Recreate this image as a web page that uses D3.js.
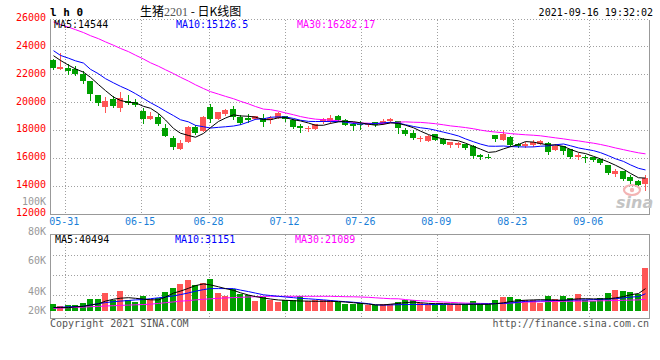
<!DOCTYPE html>
<html><head><meta charset="utf-8">
<script src="https://cdn.jsdelivr.net/npm/d3@7/dist/d3.min.js"></script>
<style>body{margin:0;background:#fff}svg{display:block}</style>
</head><body><svg id="c" width="660" height="360"></svg>
<script>
const dates = ["05-27","05-28","05-31","06-01","06-02","06-03","06-04","06-07","06-08","06-09","06-10","06-11","06-15","06-16","06-17","06-18","06-21","06-22","06-23","06-24","06-25","06-28","06-29","06-30","07-01","07-02","07-05","07-06","07-07","07-08","07-09","07-12","07-13","07-14","07-15","07-16","07-19","07-20","07-21","07-22","07-23","07-26","07-27","07-28","07-29","07-30","08-02","08-03","08-04","08-05","08-06","08-09","08-10","08-11","08-12","08-13","08-16","08-17","08-18","08-19","08-20","08-23","08-24","08-25","08-26","08-27","08-30","08-31","09-01","09-02","09-03","09-06","09-07","09-08","09-09","09-10","09-13","09-14","09-15","09-16"];
const open = [23000,22380,22480,22400,22000,21500,20500,19650,20200,19560,20080,19970,19370,18790,18930,18170,17400,16620,17100,18220,17930,19650,18770,19130,19500,18930,18880,18790,18890,18700,18890,18980,18700,18270,18070,18070,18560,18650,18980,18700,18410,18440,18350,18560,18390,18620,18650,18000,17790,17330,17190,17690,17380,16900,16900,16980,16860,16180,16060,17620,17310,17500,16980,16830,16900,17020,17090,16590,16830,16600,16060,16060,16060,15880,15470,14870,15040,14630,14340,14150];
const close = [22450,22500,22230,22050,21500,20600,19900,20060,19720,20300,19900,19760,18790,19030,18410,17570,16740,17070,18220,17780,18930,18820,19290,19450,18930,18530,18700,18980,18570,18890,19220,18750,18220,18150,18140,18410,18750,18890,18700,18340,18270,18360,18390,18340,18650,18790,18170,17740,17430,17430,17550,17310,17000,17140,17090,16710,16120,16060,15950,17330,17740,16900,16830,17020,17140,17210,16400,16830,16500,16060,16180,15950,15830,15590,14910,15040,14510,14340,14030,14560];
const high = [23080,23490,22700,22580,22210,21520,20520,20370,20440,20730,20490,20200,19540,19290,19130,18410,17530,17260,18250,18340,18980,19850,19300,19500,19700,19060,19130,19030,19130,19000,19270,19030,18820,18410,18270,18460,18840,19060,19080,18790,18580,18650,18530,18560,18790,18860,18650,18170,18030,17550,17620,17740,17430,17140,17140,17020,16900,16250,16250,17620,17980,17550,17070,17140,17260,17310,17140,17020,16830,16600,16310,16180,16060,15880,15470,15230,15040,14750,14440,14800];
const low = [22360,22380,22050,21950,21400,20180,19770,19290,19670,19350,19880,19700,18500,18790,18360,17550,16620,16620,17100,17720,17930,18580,18770,19050,18750,18390,18550,18790,18270,18500,18890,18640,18170,17860,17930,18070,18500,18500,18650,18340,17980,18100,18250,18270,18390,18620,17780,17620,17380,17220,17190,17260,17000,16780,16780,16620,16020,15920,15950,17210,17260,16860,16790,16780,16830,17020,16300,16590,16260,16000,15880,15700,15740,15520,14860,14700,14390,14210,14030,13670];
const volume = [12110,8500,10300,10300,13920,22420,22420,32000,20610,35620,19350,15730,26580,21150,24230,34350,41040,48270,55510,46470,50620,57310,32000,26580,39230,31460,28390,18080,25310,20610,16270,19350,19350,26580,18080,19350,19350,19350,16270,13380,13380,14460,10300,10300,13380,13380,16270,19350,20610,14460,13380,13380,12110,12110,12110,13380,18080,12110,12110,19350,25310,25310,22420,19350,19350,14460,26580,22420,26580,24230,30190,20610,18080,24230,32540,37430,35620,33810,31460,77740];
const ma5 = [23330,22990,22650,22380,22146,21776,21256,20822,20356,20116,19976,19948,19694,19556,19178,18712,18108,17764,17602,17476,17748,18164,18608,18854,19084,19004,18980,18918,18742,18734,18872,18882,18730,18646,18496,18334,18334,18468,18578,18618,18590,18512,18412,18340,18402,18506,18468,18338,18156,17912,17664,17492,17344,17286,17218,17050,16812,16624,16386,16434,16640,16796,16950,17164,17126,17020,16920,16920,16816,16600,16394,16304,16104,15922,15692,15464,15176,14878,14566,14544];
const ma10 = [23690,23350,23150,22960,22800,22350,22030,21680,21380,21131,20876,20602,20258,19956,19647,19344,19028,18729,18579,18327,18230,18136,18186,18228,18280,18376,18572,18763,18798,18909,18938,18931,18824,18694,18615,18603,18608,18599,18612,18557,18462,18423,18440,18459,18510,18548,18490,18375,18248,18157,18085,17980,17841,17721,17565,17357,17152,16984,16836,16826,16845,16804,16787,16775,16780,16830,16858,16935,16990,16863,16707,16612,16512,16369,16146,15929,15740,15491,15244,15127];
const ma30 = [25750,25560,25380,25200,24990,24765,24550,24320,24080,23850,23620,23365,23090,22820,22570,22320,22045,21780,21505,21240,20970,20750,20570,20410,20240,20055,19870,19680,19495,19456,19348,19223,19089,18959,18847,18774,18736,18697,18663,18598,18543,18497,18483,18460,18468,18509,18557,18579,18553,18541,18495,18445,18368,18291,18230,18169,18083,17986,17899,17847,17797,17736,17689,17652,17618,17578,17500,17431,17358,17282,17212,17132,17047,16955,16830,16705,16583,16470,16357,16282];
const volMa5 = [6150,6150,6150,7590,8500,10850,13020,17900,21330,23140,24050,22960,21520,20250,20070,25130,32360,35980,41040,45920,49000,47190,43750,40500,37430,32910,28930,26040,23500,21700,19890,19350,18620,18080,17900,17540,17540,17540,17000,16270,15000,13740,12480,11030,11030,12290,13740,15190,16270,15000,13740,13380,13380,12840,12290,12110,12110,12110,12110,13200,14830,17000,18620,19530,20070,20430,20250,19710,19350,20790,22060,22240,21880,21880,22240,23680,26040,29290,31640,40494];
const volMa10 = [6330,6870,7410,7960,8500,11030,13200,15190,16810,17900,18980,20070,20790,22240,23870,25310,27300,29650,32720,35800,38690,40500,40500,40500,40500,37790,35080,32360,29290,28020,26580,25310,24050,22780,22060,21150,20070,19000,17800,16800,15800,14650,13200,11210,10490,11030,11390,11750,11930,11750,11570,11750,11930,11930,12110,12290,12660,12840,13020,13380,13740,14460,15910,17360,17900,18260,18620,18980,19350,19710,19890,20250,20610,20970,21520,22240,23680,25130,26040,31151];
const volMa30 = [4700,5240,5970,6510,7050,7770,8320,9040,9580,10120,10670,11210,11750,12290,13740,15010,16450,17720,18800,20070,21150,22060,22960,23680,24230,24770,25310,25850,26400,26580,26580,26580,26580,26580,26580,26580,26580,26580,26220,25850,25670,25310,24770,23870,22960,22240,22060,20610,19350,18440,17720,16810,16270,15550,14830,14280,13920,13740,13380,13380,13920,14460,15190,16090,16450,16810,17000,17360,17540,17720,17900,17900,18080,18440,18620,18980,19350,19710,20070,21089];
const priceTicks = [26000,24000,22000,20000,18000,16000,14000,12000];
const volTickValues = [80000,60000,40000,20000];
const volTickLabels = ["80K","60K","40K","20K"];
const dateTicks = ["05-31","06-15","06-28","07-12","07-26","08-09","08-23","09-06"];
const volGridDates = ["05-31","06-28","07-12","07-26","08-09","09-06"];
const volGridRows = [1,2,3];
const maLabels = ["MA5:14544","MA10:15126.5","MA30:16282.17"];
const volMaLabels = ["MA5:40494","MA10:31151","MA30:21089"];

const svg = d3.select("#c");
const mono = "'DejaVu Sans Mono', monospace";
const RED = "#ff5555", GREEN = "#00a000", GRID = "#a0a0a0", BORDER = "#999";
const L = 50, R = 650;

const x = d3.scaleBand().domain(dates).range([L, R]);
const xGrid = d3.scaleLinear().domain([0, dates.length - 1]).range([L, R]);
const y = d3.scaleLinear().domain([12000, 26000]).range([213.5, 18.5]);
const yVol = d3.scaleLinear().domain([0, 138000]).range([311, 234.7]);
const yVolLabel = d3.scaleLinear().domain([20000, 40000, 60000, 80000]).range([314, 294.5, 264, 234.5]);
const gRow = d3.scaleLinear().domain([0, 4]).range([235, 315]);
const px = v => Math.round(v) + 0.5;
const cx = d => Math.floor(x(d)) + 3.5;

// ---------- main panel grid ----------
const grid = svg.append("g").attr("shape-rendering", "crispEdges");
grid.selectAll(".hg").data(priceTicks.filter(v => v > 12000)).join("line")
  .attr("x1", L).attr("x2", R - 1).attr("y1", d => px(y(d))).attr("y2", d => px(y(d)))
  .attr("stroke", GRID).attr("stroke-dasharray", "1,2");
grid.selectAll(".vg").data(dateTicks).join("line")
  .attr("x1", d => px(xGrid(dates.indexOf(d)))).attr("x2", d => px(xGrid(dates.indexOf(d))))
  .attr("y1", px(y(26000))).attr("y2", px(y(12000)))
  .attr("stroke", GRID).attr("stroke-dasharray", "1,2");
grid.append("line").attr("x1", L + 0.5).attr("x2", L + 0.5).attr("y1", px(y(26000))).attr("y2", px(y(12000))).attr("stroke", BORDER);
grid.append("line").attr("x1", R - 0.5).attr("x2", R - 0.5).attr("y1", px(y(26000))).attr("y2", px(y(12000))).attr("stroke", BORDER);
grid.append("line").attr("x1", L).attr("x2", R).attr("y1", px(y(12000))).attr("y2", px(y(12000))).attr("stroke", BORDER);

// volume panel grid
const vTop = 234.5, vBot = 318.5;
grid.selectAll(".vhg").data(volGridRows).join("line")
  .attr("x1", L).attr("x2", R - 1).attr("y1", d => px(gRow(d))).attr("y2", d => px(gRow(d)))
  .attr("stroke", GRID).attr("stroke-dasharray", "1,2");
grid.selectAll(".vvg").data(volGridDates).join("line")
  .attr("x1", d => px(xGrid(dates.indexOf(d)))).attr("x2", d => px(xGrid(dates.indexOf(d))))
  .attr("y1", vTop).attr("y2", vBot)
  .attr("stroke", GRID).attr("stroke-dasharray", "1,2");
grid.append("rect").attr("x", L + 0.5).attr("y", vTop).attr("width", R - L - 1).attr("height", vBot - vTop)
  .attr("fill", "none").attr("stroke", BORDER);

// watermark
const wm = svg.append("g");
wm.append("ellipse").attr("cx", 632).attr("cy", 190).attr("rx", 8).attr("ry", 5)
  .attr("fill", "none").attr("stroke", "#f3b4b4").attr("stroke-width", 2.2);
wm.append("circle").attr("cx", 632).attr("cy", 190).attr("r", 2.2).attr("fill", "#f3b4b4");
wm.append("text").attr("x", 616).attr("y", 208).text("sina")
  .attr("font-family", "'DejaVu Sans', sans-serif").attr("font-style", "italic").attr("font-weight", "bold")
  .attr("font-size", 16).attr("fill", "#c4c4c4");

// ---------- candles ----------
const idx = d3.range(dates.length);
const col = i => close[i] >= open[i] ? RED : GREEN;
const cg = svg.append("g").attr("shape-rendering", "crispEdges");
cg.selectAll(".wick").data(idx).join("line")
  .attr("x1", i => cx(dates[i])).attr("x2", i => cx(dates[i]))
  .attr("y1", i => Math.round(y(high[i]))).attr("y2", i => Math.round(y(low[i])) + 1)
  .attr("stroke", col);
cg.selectAll(".body").data(idx).join("rect")
  .attr("x", i => Math.floor(x(dates[i]))).attr("width", 6)
  .attr("y", i => Math.round(y(Math.max(open[i], close[i]))))
  .attr("height", i => Math.max(1, Math.round(y(Math.min(open[i], close[i]))) - Math.round(y(Math.max(open[i], close[i])))))
  .attr("fill", col);

// MA lines
const line = arr => d3.line().x((v, i) => cx(dates[i])).y(v => y(v))(arr);
[[ma30, "#ff00ff"], [ma10, "#0000ff"], [ma5, "#000000"]].forEach(([a, c]) => {
  svg.append("path").attr("d", line(a)).attr("fill", "none").attr("stroke", c).attr("stroke-width", 1);
});

// ---------- volume ----------
const vg = svg.append("g").attr("shape-rendering", "crispEdges");
vg.selectAll(".vb").data(idx).join("rect")
  .attr("x", i => Math.floor(x(dates[i]))).attr("width", 6)
  .attr("y", i => Math.round(yVol(volume[i]))).attr("height", i => Math.round(yVol(0)) - Math.round(yVol(volume[i])))
  .attr("fill", col);
const vline = arr => d3.line().x((v, i) => cx(dates[i])).y(v => yVol(v))(arr);
[[volMa30, "#ff00ff"], [volMa10, "#0000ff"], [volMa5, "#000000"]].forEach(([a, c]) => {
  svg.append("path").attr("d", vline(a)).attr("fill", "none").attr("stroke", c).attr("stroke-width", 1);
});

// ---------- texts ----------
const t = svg.append("g").attr("font-family", mono).attr("font-size", 10);
t.selectAll(".pl").data(priceTicks).join("text")
  .attr("x", 46).attr("y", d => y(d) + 2.5).attr("text-anchor", "end").attr("fill", "#ff0000").text(d => d);
t.append("text").attr("x", 46).attr("y", 204.5).attr("text-anchor", "end").attr("fill", "#999").text("100K");
t.selectAll(".vl").data(volTickValues).join("text")
  .attr("x", 46).attr("y", d => yVolLabel(d)).attr("text-anchor", "end").attr("fill", "#999")
  .text((d, i) => volTickLabels[i]);
t.selectAll(".dl").data(dateTicks).join("text")
  .attr("x", d => xGrid(dates.indexOf(d)) - 1).attr("y", 225).attr("text-anchor", "middle").attr("fill", "#1a80d8")
  .text(d => d);
const maCols = ["#000000", "#0000ff", "#ff00ff"], maX = [54, 176, 297], vmaX = [55, 175, 295];
t.selectAll(".ml").data(maLabels).join("text")
  .attr("x", (d, i) => maX[i]).attr("y", 27.5).attr("fill", (d, i) => maCols[i]).text(d => d);
t.selectAll(".vml").data(volMaLabels).join("text")
  .attr("x", (d, i) => vmaX[i]).attr("y", 243).attr("fill", (d, i) => maCols[i]).text(d => d);
t.append("text").attr("x", 50).attr("y", 327).attr("fill", "#555").text("Copyright 2021 SINA.COM");
t.append("text").attr("x", 649).attr("y", 327).attr("text-anchor", "end").attr("fill", "#555").text("http://finance.sina.com.cn");
t.append("text").attr("x", 653).attr("y", 15.5).attr("text-anchor", "end").attr("fill", "#000").text("2021-09-16 19:32:02");
t.append("text").attr("x", 50).attr("y", 15.5).attr("font-weight", "bold").attr("font-size", 11).attr("fill", "#000").text("l h 0");
const title = svg.append("text").attr("x", 140).attr("y", 15.5).attr("font-family", "'Noto Sans CJK SC', sans-serif").attr("font-size", 12).attr("fill", "#000");
title.append("tspan").text("生猪");
title.append("tspan").attr("font-family", "'Liberation Serif', serif").attr("font-size", 12).attr("fill", "#555").text("2201");
title.append("tspan").text(" - ");
title.append("tspan").text(" 日K线图");
</script>
</body></html>
